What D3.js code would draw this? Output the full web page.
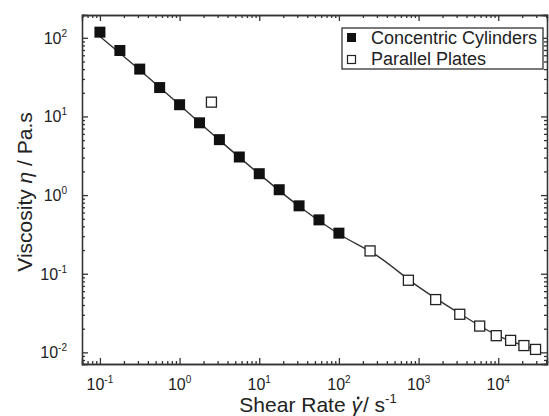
<!DOCTYPE html>
<html>
<head>
<meta charset="utf-8">
<script src="https://cdn.jsdelivr.net/npm/d3@7"></script>
<style>
  body { margin: 0; background: #fff; }
  text { font-family: "Liberation Sans", Arial, sans-serif; fill: #222; }
  .axis path, .axis line { stroke: #333; stroke-width: 1.3; }
</style>
</head>
<body>
<div id="chart"></div>
<script>
// shear rate (1/s) and viscosity (Pa.s)
var ccRate = [0.1, 0.178, 0.316, 0.562, 1, 1.78, 3.16, 5.62, 10, 17.8, 31.6, 56.2, 100];
var ccVisc = [118, 69, 40, 23.3, 14.1, 8.3, 5.07, 3.05, 1.87, 1.17, 0.73, 0.484, 0.328];

var ppRate = [2.51, 246, 745, 1640, 3290, 5850, 9440, 14300, 21000, 29400];
var ppVisc = [15.2, 0.195, 0.0826, 0.0469, 0.0305, 0.0216, 0.0163, 0.0142, 0.0122, 0.0109];

// fitted curve, points
var fitRate = [0.1, 0.316, 1, 3.16, 10, 31.6, 100, 300, 1000, 3000, 10000, 30000];
var fitVisc = [104, 39, 14, 5.0, 1.85, 0.72, 0.32, 0.17, 0.068, 0.033, 0.0162, 0.0108];

var xMajor = [-1, 0, 1, 2, 3, 4];
var yMajor = [2, 1, 0, -1, -2];
var legendNames = ["Concentric Cylinders", "Parallel Plates"];

var W = 549, H = 416;
var margin = {top: 15, right: 2, bottom: 52, left: 82};
var w = W - margin.left - margin.right;
var h = H - margin.top - margin.bottom;

var svg = d3.select("#chart").append("svg")
    .attr("width", W)
    .attr("height", H);

var g = svg.append("g")
    .attr("transform", "translate(" + margin.left + "," + margin.top + ")");

var x = d3.scaleLog()
    .domain([Math.pow(10, -1.225), Math.pow(10, 4.612)])
    .range([0, w]);

var y = d3.scaleLog()
    .domain([Math.pow(10, -2.148), Math.pow(10, 2.29)])
    .range([h, 0]);

// minor tick values 2..9 of each decade
function minors(lo, hi, scale) {
    var out = [];
    var d = scale.domain();
    for (var e = lo; e <= hi; e++) {
        for (var m = 2; m <= 9; m++) {
            var v = m * Math.pow(10, e);
            if (v > d[0] && v < d[1]) out.push(v);
        }
    }
    return out;
}
var xMin = minors(-2, 4, x);
var yMin = minors(-3, 2, y);
var xMaj = xMajor.map(function (e) { return Math.pow(10, e); });
var yMaj = yMajor.map(function (e) { return Math.pow(10, e); });

// inward ticks on all four sides
function drawAxis(axisFn, scale, major, minor, transform) {
    g.append("g").attr("class", "axis").attr("transform", transform)
        .call(axisFn(scale).tickValues(major).tickSize(-6).tickFormat(""));
    g.append("g").attr("class", "axis").attr("transform", transform)
        .call(axisFn(scale).tickValues(minor).tickSize(-3).tickFormat(""));
}
drawAxis(d3.axisBottom, x, xMaj, xMin, "translate(0," + h + ")");
drawAxis(d3.axisTop, x, xMaj, xMin, "translate(0,0)");
drawAxis(d3.axisLeft, y, yMaj, yMin, "translate(0,0)");
drawAxis(d3.axisRight, y, yMaj, yMin, "translate(" + w + ",0)");

g.selectAll(".axis path").attr("stroke-width", 1.6);

// tick labels with superscript exponents
var xl = g.selectAll("text.xlab").data(xMajor).enter().append("text")
    .attr("class", "xlab")
    .attr("x", function (d) { return x(Math.pow(10, d)); })
    .attr("y", h + 26)
    .attr("text-anchor", "middle")
    .style("font-size", "16px");
xl.append("tspan").text("10");
xl.append("tspan").attr("dy", -7).style("font-size", "10px").text(function (d) { return d; });

var yl = g.selectAll("text.ylab").data(yMajor).enter().append("text")
    .attr("class", "ylab")
    .attr("x", -15)
    .attr("y", function (d) { return y(Math.pow(10, d)) + 6; })
    .attr("text-anchor", "end")
    .style("font-size", "16px");
yl.append("tspan").text("10");
yl.append("tspan").attr("dy", -7).style("font-size", "10px").text(function (d) { return d; });

// fitted line
var fit = fitRate.map(function (r, i) { return [r, fitVisc[i]]; });
g.append("path")
    .datum(fit)
    .attr("fill", "none")
    .attr("stroke", "#333")
    .attr("stroke-width", 1.4)
    .attr("d", d3.line()
        .x(function (d) { return x(d[0]); })
        .y(function (d) { return y(d[1]); })
        .curve(d3.curveMonotoneX));

// concentric cylinders: filled squares
var s = 11;
g.selectAll("rect.cc").data(ccRate).enter().append("rect")
    .attr("class", "cc")
    .attr("x", function (d) { return x(d) - s / 2; })
    .attr("y", function (d, i) { return y(ccVisc[i]) - s / 2; })
    .attr("width", s).attr("height", s)
    .attr("fill", "#111");

// parallel plates: open squares
var so = 10;
g.selectAll("rect.pp").data(ppRate).enter().append("rect")
    .attr("class", "pp")
    .attr("x", function (d) { return x(d) - so / 2; })
    .attr("y", function (d, i) { return y(ppVisc[i]) - so / 2; })
    .attr("width", so).attr("height", so)
    .attr("fill", "#fff")
    .attr("stroke", "#222")
    .attr("stroke-width", 1.3);

// legend
var lg = svg.append("g").attr("transform", "translate(342,28)");
lg.append("rect")
    .attr("width", 201).attr("height", 41)
    .attr("fill", "#fff").attr("stroke", "#333").attr("stroke-width", 1.3);
lg.append("rect").attr("x", 5).attr("y", 5).attr("width", 9).attr("height", 9).attr("fill", "#111");
lg.append("rect").attr("x", 5.5).attr("y", 27.5).attr("width", 8).attr("height", 8)
    .attr("fill", "#fff").attr("stroke", "#222").attr("stroke-width", 1.2);
lg.selectAll("text.leg").data(legendNames).enter().append("text")
    .attr("class", "leg")
    .attr("x", 29)
    .attr("y", function (d, i) { return 16 + i * 21; })
    .style("font-size", "18px")
    .text(function (d) { return d; });

// axis titles
var xt = svg.append("text")
    .attr("x", 318).attr("y", 412)
    .attr("text-anchor", "middle")
    .style("font-size", "21px");
xt.append("tspan").text("Shear Rate ");
xt.append("tspan").style("font-style", "italic").text("\u03b3");
xt.append("tspan").attr("dx", 1).text("/ s");
xt.append("tspan").attr("dy", -9).style("font-size", "13px").text("-1");

// the dot over gamma (shear rate symbol)
var gb = xt.node().getExtentOfChar(11);
svg.append("circle")
    .attr("cx", gb.x + gb.width / 2 + 1.5)
    .attr("cy", gb.y + 5)
    .attr("r", 1.4)
    .attr("fill", "#222");

var yt = svg.append("text")
    .attr("transform", "translate(32,192) rotate(-90)")
    .attr("text-anchor", "middle")
    .style("font-size", "21px");
yt.append("tspan").text("Viscosity ");
yt.append("tspan").style("font-style", "italic").text("\u03b7");
yt.append("tspan").text(" / Pa.s");
</script>
</body>
</html>
